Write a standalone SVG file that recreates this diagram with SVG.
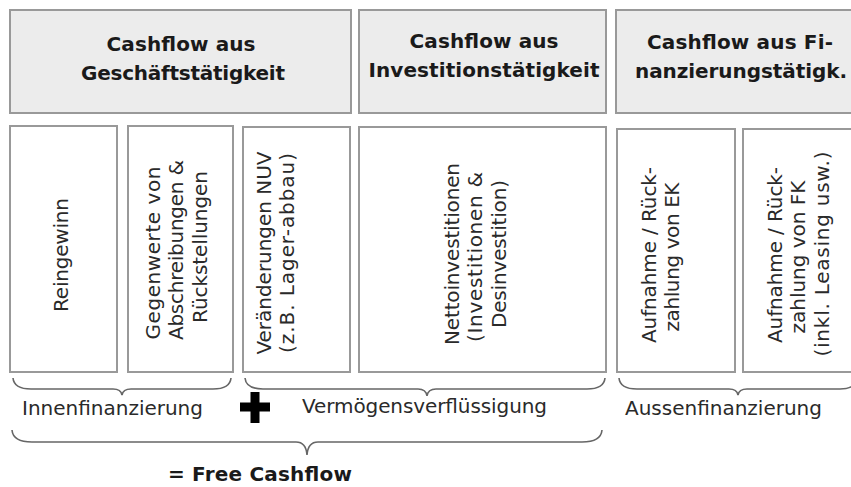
<svg xmlns="http://www.w3.org/2000/svg" width="851" height="487" viewBox="0 0 851 487">
  <style>
    .head { fill: #ececec; stroke: #999; stroke-width: 2; }
    .item { fill: #fff; stroke: #999; stroke-width: 2; }
    .ht { font-family: "DejaVu Sans", Verdana, sans-serif; font-weight: bold; font-size: 20px; fill: #1a1a1a; text-anchor: middle; }
    .vt { font-family: "DejaVu Sans", Verdana, sans-serif; font-size: 20px; fill: #2a2a2a; text-anchor: middle; }
    .lbl { font-family: "DejaVu Sans", Verdana, sans-serif; font-size: 20px; fill: #2a2a2a; }
    .brace { fill: none; stroke: #666; stroke-width: 1.6; }
  </style>
  <rect width="851" height="487" fill="#fff"/>

  <!-- section headers -->
  <g id="hdr-operating">
    <rect class="head" x="10" y="10" width="341" height="103"/>
    <text class="ht" x="181" y="51" textLength="149">Cashflow aus</text>
    <text class="ht" x="183" y="80" textLength="204">Geschäftstätigkeit</text>
  </g>
  <g id="hdr-investing">
    <rect class="head" x="359" y="10" width="247" height="103"/>
    <text class="ht" x="484" y="48" textLength="149">Cashflow aus</text>
    <text class="ht" x="484" y="77" textLength="231">Investitionstätigkeit</text>
  </g>
  <g id="hdr-financing">
    <rect class="head" x="616" y="10" width="250" height="103"/>
    <text class="ht" x="740" y="49" textLength="186">Cashflow aus Fi-</text>
    <text class="ht" x="741" y="78" textLength="212">nanzierungstätigk.</text>
  </g>

  <!-- detail columns (text reads bottom to top) -->
  <g id="reingewinn">
    <rect class="item" x="10" y="126" width="107" height="246"/>
    <text class="vt" transform="translate(68,255) rotate(-90)" textLength="114">Reingewinn</text>
  </g>
  <g id="gegenwerte">
    <rect class="item" x="128" y="126" width="105" height="246"/>
    <text class="vt" transform="translate(160,253) rotate(-90)" textLength="173">Gegenwerte von</text>
    <text class="vt" transform="translate(183,250) rotate(-90)" textLength="180">Abschreibungen &amp;</text>
    <text class="vt" transform="translate(207,247) rotate(-90)" textLength="152">Rückstellungen</text>
  </g>
  <g id="nuv">
    <rect class="item" x="243" y="127" width="107" height="245"/>
    <text class="vt" transform="translate(271,253) rotate(-90)" textLength="203">Veränderungen NUV</text>
    <text class="vt" transform="translate(294,253) rotate(-90)" textLength="200">(z.B. Lager-abbau)</text>
  </g>
  <g id="nettoinvestitionen">
    <rect class="item" x="359" y="127" width="247" height="245"/>
    <text class="vt" transform="translate(459,254) rotate(-90)" textLength="182">Nettoinvestitionen</text>
    <text class="vt" transform="translate(482,257) rotate(-90)" textLength="170">(Investitionen &amp;</text>
    <text class="vt" transform="translate(506,254) rotate(-90)" textLength="148">Desinvestition)</text>
  </g>
  <g id="ek">
    <rect class="item" x="617" y="129" width="118" height="243"/>
    <text class="vt" transform="translate(656,255) rotate(-90)" textLength="176">Aufnahme / Rück-</text>
    <text class="vt" transform="translate(679,257) rotate(-90)" textLength="149">zahlung von EK</text>
  </g>
  <g id="fk">
    <rect class="item" x="743" y="129" width="120" height="243"/>
    <text class="vt" transform="translate(782,255) rotate(-90)" textLength="176">Aufnahme / Rück-</text>
    <text class="vt" transform="translate(805,257) rotate(-90)" textLength="153">zahlung von FK</text>
    <text class="vt" transform="translate(829,254) rotate(-90)" textLength="205">(inkl. Leasing usw.)</text>
  </g>

  <!-- grouping braces -->
  <g id="connectors">
    <path class="brace" d="M13,378 Q14,389 31,389 L113,389 Q121,389 122,395 Q123,389 131,389 L213,389 Q230,389 231,378"/>
    <path class="brace" d="M245,378 Q246,389 263,389 L418,389 Q426,389 427,396 Q428,389 436,389 L587,389 Q604,389 605,378"/>
    <path class="brace" d="M619,378 Q620,389 637,389 L729,389 Q737,389 738,395 Q739,389 747,389 L840,389 Q856,389 857,378"/>
    <path class="brace" d="M12,430 Q13,442 32,442 L296,442 Q306,442 307,455 Q308,442 318,442 L582,442 Q601,442 602,430"/>
  </g>

  <!-- group labels -->
  <g id="label-innen">
    <text class="lbl" x="22" y="415" textLength="181">Innenfinanzierung</text>
  </g>
  <g id="plus">
    <rect x="240" y="402.5" width="30" height="9" fill="#000"/>
    <rect x="250.5" y="392" width="9" height="31" fill="#000"/>
  </g>
  <g id="label-vermoegen">
    <text class="lbl" x="302" y="413" textLength="245">Vermögensverflüssigung</text>
  </g>
  <g id="label-aussen">
    <text class="lbl" x="625" y="415" textLength="197">Aussenfinanzierung</text>
  </g>
  <g id="free-cashflow">
    <text class="ht" x="260" y="481" textLength="184">= Free Cashflow</text>
  </g>
</svg>
